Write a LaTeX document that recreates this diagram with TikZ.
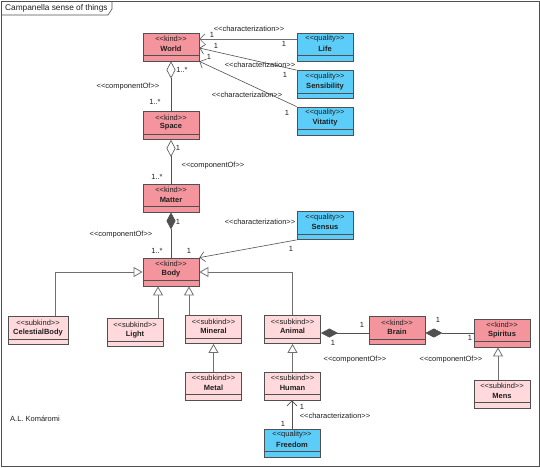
\documentclass[tikz,border=0pt]{standalone}
\usepackage{fontspec}
\newfontfamily\umlf{Liberation Sans}
\usetikzlibrary{arrows.meta,calc}
\definecolor{kindc}{HTML}{F4959D}
\definecolor{qualc}{HTML}{5CCDF8}
\definecolor{subc}{HTML}{FFD9DC}
\definecolor{edgec}{HTML}{505050}
\definecolor{genc}{HTML}{707070}
\newcommand{\umlcls}[5]{%
  \node[#3] (#1) at (#2) {};
  \draw[draw=edgec, line width=0.8pt] ([yshift=6pt]#1.south west) -- ([yshift=6pt]#1.south east);
  \node (#1-st) at ([yshift=-6.3pt]#1.north) {<<#4>>};
  \node[nm] (#1-nm) at ([yshift=-16pt]#1.north) {#5};
}
\begin{document}
\begin{tikzpicture}[x=1pt,y=-1pt,
  every node/.style={font=\umlf\fontsize{7.5}{9}\selectfont, inner sep=0pt, text=black!88},
  cls/.style={draw=edgec, line width=0.8pt, minimum width=56pt, minimum height=28pt},
  kindbox/.style={cls, fill=kindc},
  qualbox/.style={cls, fill=qualc},
  subbox/.style={cls, fill=subc},
  wide/.style={minimum width=60pt},
  nm/.style={font=\umlf\bfseries\fontsize{7.5}{9}\selectfont},
  assoc/.style={draw=edgec, line width=0.6pt},
  nav/.style={assoc, -{Straight Barb[length=5pt,width=10pt]}},
  gen/.style={draw=genc, line width=0.8pt, -{Triangle[open,length=9pt,width=10pt,fill=white]}},
  odia/.style={assoc, {Diamond[open,length=17pt,width=9pt,fill=white]}-},
  fdia/.style={assoc, {Diamond[length=17pt,width=9pt]}-},
]
\useasboundingbox (0,0) rectangle (540,467);
\fill[white] (0,0) rectangle (540,467);
% frame
\draw[draw=edgec, line width=0.8pt] (1,1) rectangle (539,466);
\draw[draw=edgec, line width=0.6pt] (1,15) -- (108,15) -- (112,9) -- (112,1);
\node[anchor=west, font=\umlf\fontsize{8.3}{10}\selectfont] (title) at (5,8.5) {Campanella sense of things};

% classes
\umlcls{World}{171,47}{kindbox}{kind}{World}
\umlcls{Life}{325,47}{qualbox}{quality}{Life}
\umlcls{Sensibility}{325,84.5}{qualbox}{quality}{Sensibility}
\umlcls{Vitatity}{325,121}{qualbox}{quality}{Vitatity}
\umlcls{Space}{171,125.5}{kindbox}{kind}{Space}
\umlcls{Matter}{171,198}{kindbox}{kind}{Matter}
\umlcls{Sensus}{325,225.5}{qualbox}{quality}{Sensus}
\umlcls{Body}{171,272}{kindbox}{kind}{Body}
\umlcls{CelestialBody}{38,330.5}{subbox,wide}{subkind}{CelestialBody}
\umlcls{Light}{135,332.5}{subbox}{subkind}{Light}
\umlcls{Mineral}{213.5,329.5}{subbox}{subkind}{Mineral}
\umlcls{Animal}{292.5,329.5}{subbox}{subkind}{Animal}
\umlcls{Metal}{213.5,386}{subbox}{subkind}{Metal}
\umlcls{Human}{292.5,386}{subbox}{subkind}{Human}
\umlcls{Freedom}{292,443}{qualbox}{quality}{Freedom}
\umlcls{Brain}{397,330.5}{kindbox}{kind}{Brain}
\umlcls{Spiritus}{502,333}{kindbox}{kind}{Spiritus}
\umlcls{Mens}{502,394}{subbox}{subkind}{Mens}

% characterizations to World
\draw[nav, draw=genc] ([yshift=8pt]Life.west) -- ([yshift=8pt]World.east);
\draw[nav] (Sensibility.north west) -- ([yshift=-1pt]World.east);
\draw[nav] (Vitatity.north west) -- (World.south east);
\node (c1) at (249,28.5) {<<characterization>>};
\node (c2) at (260,65) {<<characterization>>};
\node (c3) at (247,95) {<<characterization>>};
\node (m1) at (212,35) {1};
\node (m2) at (216,46) {1};
\node (m3) at (209,57) {1};
\node (m4) at (284,44) {1};
\node (m5) at (285,75) {1};
\node (m6) at (287,113) {1};

% componentOf chain
\draw[odia] (World.south) -- (Space.north);
\node (m7) at (182,70) {1..*};
\node (m8) at (155,102) {1..*};
\node (k1) at (128,87) {<<componentOf>>};
\draw[odia] (Space.south) -- (Matter.north);
\node (m9) at (178,148) {1};
\node (m10) at (157,177) {1..*};
\node (k2) at (213,166) {<<componentOf>>};
\draw[fdia] (Matter.south) -- (Body.north);
\node (m11) at (178,222) {1};
\node (m12) at (157,251) {1..*};
\node (k3) at (121,235) {<<componentOf>>};

% Sensus
\draw[nav] (Sensus.south west) -- (Body.north east);
\node (m13) at (189,251) {1};
\node (m14) at (291,249) {1};
\node (c4) at (260,222) {<<characterization>>};

% generalizations
\draw[gen] ([xshift=17pt]CelestialBody.north) |- (Body.west);
\coordinate (lt) at ([xshift=23pt]Light.north);
\draw[gen] (lt) -- (lt |- Body.south);
\coordinate (mn) at ([xshift=-24.5pt]Mineral.north);
\draw[gen] (mn) -- (mn |- Body.south);
\draw[gen] (Animal.north) |- (Body.east);
\draw[gen] (Metal.north) -- (Mineral.south);
\draw[gen] (Human.north) -- (Animal.south);
\coordinate (ms) at ([xshift=-4pt]Mens.north);
\draw[gen] (ms) -- (ms |- Spiritus.south);

% Freedom
\draw[nav] (Freedom.north) -- (Freedom.north |- Human.south);
\node (m15) at (302,407) {1};
\node (m16) at (283,424) {1};
\node (c5) at (335,416) {<<characterization>>};

% Animal - Brain - Spiritus
\coordinate (ab) at ([yshift=-3.5pt]Animal.east);
\draw[fdia] (ab) -- (ab -| Brain.west);
\node (m17) at (362,325) {1};
\node (m18) at (333,343) {1};
\node (k4) at (355,360) {<<componentOf>>};
\coordinate (bs) at ([yshift=-2.5pt]Brain.east);
\draw[fdia] (bs) -- (bs -| Spiritus.west);
\node (m19) at (438,320) {1};
\node (m20) at (470,338) {1};
\node (k5) at (451,360) {<<componentOf>>};

\node[anchor=west] (author) at (10,419) {A.L. Komáromi};
\end{tikzpicture}
\end{document}
